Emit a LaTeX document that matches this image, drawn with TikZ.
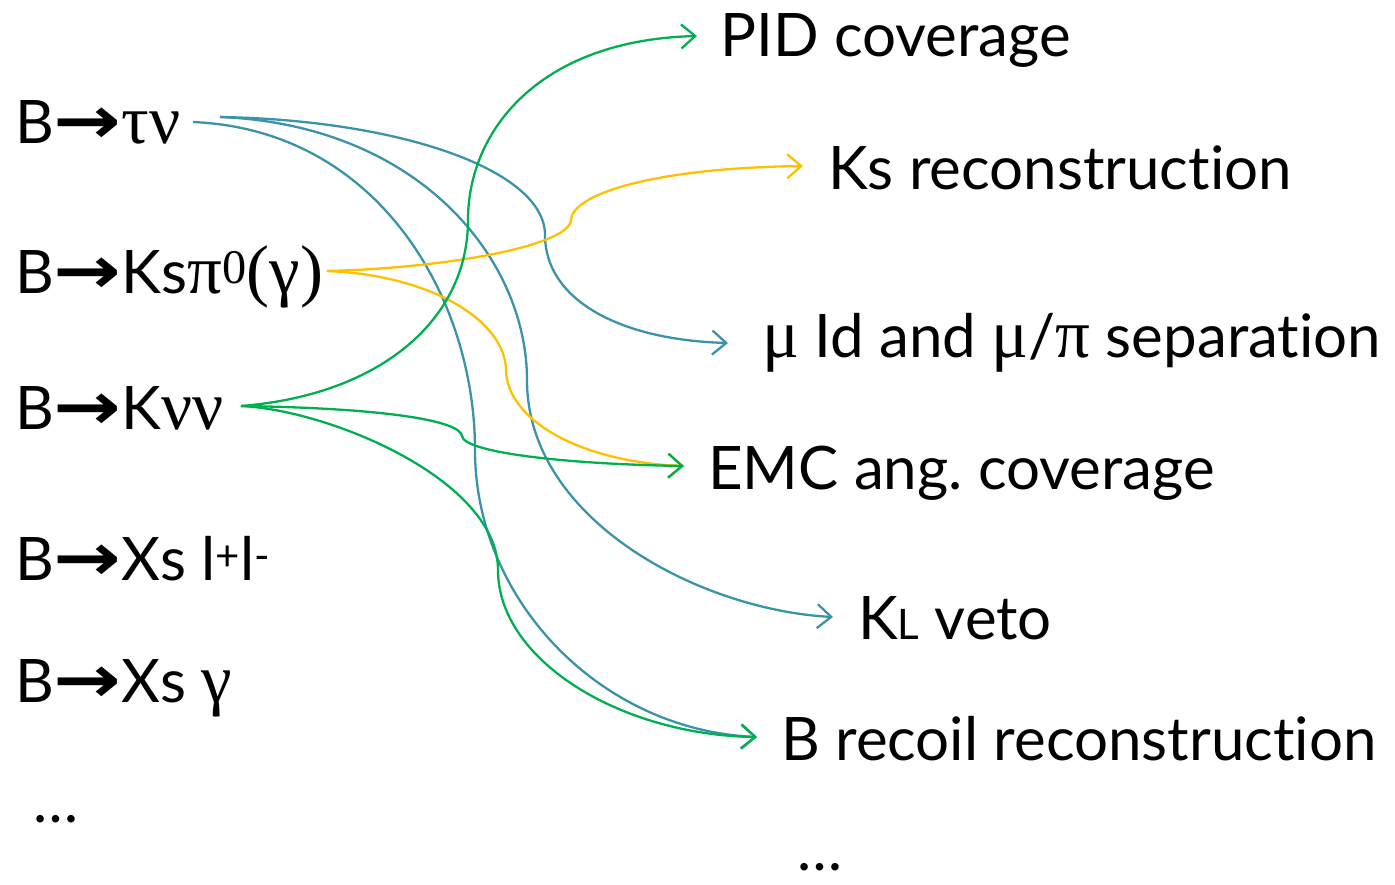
\documentclass[tikz,border=0pt]{standalone}
\usepackage{fontspec}
\setmainfont{Lato}[Ligatures=NoCommon]
\newfontfamily\gr{Liberation Serif}[Scale=1.15]
\newfontfamily\sym{DejaVu Sans}
\usetikzlibrary{arrows.meta}
\definecolor{cblue}{HTML}{3A93A9}
\definecolor{cgreen}{HTML}{00B050}
\definecolor{cyellow}{HTML}{FFC000}
\newcommand{\arr}{\scalebox{1.35}[1.1]{\sym\bfseries →}}
\frenchspacing
\tikzset{
  lab/.style={anchor=base west, inner sep=0pt, font=\fontsize{60}{60}\selectfont},
  conn/.style={line width=2.3pt, -{Straight Barb[length=14pt,width=24pt,line width=2.3pt]}},
}
\begin{document}
\begin{tikzpicture}[x=1pt,y=-1pt]
\useasboundingbox (0,0) rectangle (1395,884);
% left column
\node[lab] (tnu) at (15,143) {B\arr{\gr τν}};
\node[lab] (kspi) at (15,293) {B\arr Ks{\gr π\textsuperscript{0}(γ)}};
\node[lab] (knn) at (15,429) {B\arr K{\gr νν}};
\node[lab] (xsll) at (15,580) {B\arr Xs l\textsuperscript{+}l\textsuperscript{-}};
\node[lab] (xsg) at (15,702) {B\arr Xs {\gr γ}};
\node[lab] (ldots) at (33,822) {\dots};
% right column
\node[lab] (pid) at (720,56) {PID coverage};
\node[lab] (ks) at (828,189) {Ks reconstruction};
\node[lab] (mu) at (762,357) {{\gr μ} Id and {\gr μ}/{\gr π} separation};
\node[lab] (emc) at (708,489) {EMC ang. coverage};
\node[lab] (kl) at (858,639) {K{\fontsize{42}{42}\selectfont L} veto};
\node[lab] (brec) at (781,760) {B recoil reconstruction};
\node[lab] (rdots) at (797,870) {\dots};
% connector end points
\coordinate (tnuA) at (193,122);
\coordinate (tnuB) at (220,117);
\coordinate (kspiA) at (327,271);
\coordinate (knnA) at (241,406);
\coordinate (pidE) at (697,36);
\coordinate (ksE) at (803,166);
\coordinate (muE) at (728,343);
\coordinate (emcE) at (684,466);
\coordinate (klE) at (833,617);
\coordinate (brecE) at (757,737);
% blue
\draw[conn, cblue] (tnuB) .. controls (400,120) and (545,170) .. (545,235) .. controls (545,300) and (620,340) .. (muE);
\draw[conn, cblue] (tnuB) .. controls (420,125) and (527,260) .. (527,380) .. controls (527,520) and (700,610) .. (klE);
\draw[conn, cblue] (tnuA) .. controls (380,130) and (475,300) .. (475,450) .. controls (475,600) and (600,730) .. (brecE);
% yellow
\draw[conn, cyellow] (kspiA) .. controls (450,268) and (570,245) .. (571,220) .. controls (572,195) and (650,168) .. (ksE);
\draw[conn, cyellow] (kspiA) .. controls (430,275) and (505,320) .. (506,370) .. controls (507,420) and (580,462) .. (emcE);
% green
\draw[conn, cgreen] (knnA) .. controls (380,395) and (468,320) .. (468,220) .. controls (468,130) and (540,40) .. (pidE);
\draw[conn, cgreen] (knnA) .. controls (380,408) and (460,420) .. (462,436) .. controls (464,452) and (560,464) .. (emcE);
\draw[conn, cgreen] (knnA) .. controls (330,410) and (498,480) .. (498,570) .. controls (498,660) and (620,735) .. (brecE);
\end{tikzpicture}
\end{document}
